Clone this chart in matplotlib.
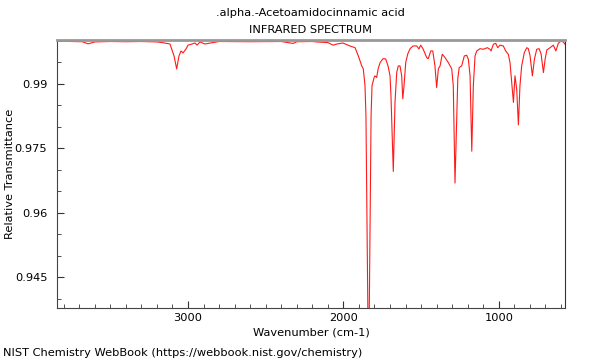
import numpy as np
import matplotlib
matplotlib.use('Agg')
import matplotlib.pyplot as plt
from matplotlib.ticker import MultipleLocator

# spectrum (wavenumber, relative transmittance)
wavenumber = [3843, 3750, 3680, 3643, 3600, 3500, 3400, 3300, 3200, 3167,
              3116, 3090, 3073, 3058, 3045, 3032, 3013, 3000, 2974, 2955,
              2942, 2923, 2891, 2800, 2600, 2400, 2324, 2300, 2200, 2170,
              2100, 2067, 2041, 2003, 1958, 1925, 1904, 1882, 1872, 1861,
              1855, 1838, 1822, 1816, 1803, 1797, 1786, 1777, 1764, 1745,
              1728, 1713, 1700, 1694, 1679, 1668, 1657, 1647, 1636, 1625,
              1618, 1610, 1599, 1586, 1571, 1552, 1528, 1514, 1503, 1488,
              1464, 1454, 1438, 1425, 1411, 1400, 1389, 1378, 1364, 1346,
              1325, 1303, 1293, 1282, 1264, 1255, 1239, 1222, 1207, 1196,
              1185, 1174, 1164, 1153, 1142, 1121, 1100, 1074, 1057, 1050,
              1035, 1020, 1007, 992, 971, 956, 939, 928, 917, 906,
              896, 885, 874, 864, 853, 836, 820, 810, 799, 784,
              771, 756, 741, 728, 713, 702, 691, 670, 649, 633,
              617, 600, 585, 574]
transmittance = [0.99997, 0.99985, 0.99980, 0.99930, 0.99975, 0.99985, 0.99980, 0.99985, 0.99975, 0.99960,
                 0.99927, 0.99649, 0.99348, 0.99649, 0.99765, 0.99719, 0.99811, 0.99900, 0.99927, 0.99950,
                 0.99900, 0.99974, 0.99927, 0.99985, 0.99980, 0.99985, 0.99940, 0.99980, 0.99985, 0.99974,
                 0.99960, 0.99900, 0.99927, 0.99950, 0.99881, 0.99841, 0.99649, 0.99417, 0.99348, 0.98954,
                 0.98258, 0.92000, 0.98258, 0.98954, 0.99139, 0.99185, 0.99146, 0.99341, 0.99494, 0.99586,
                 0.99580, 0.99417, 0.99185, 0.98722, 0.96960, 0.98567, 0.99262, 0.99417, 0.99417, 0.99185,
                 0.98652, 0.98954, 0.99494, 0.99695, 0.99818, 0.99881, 0.99881, 0.99811, 0.99900, 0.99818,
                 0.99610, 0.99586, 0.99765, 0.99765, 0.99417, 0.98914, 0.99348, 0.99417, 0.99688, 0.99610,
                 0.99494, 0.99348, 0.98954, 0.96689, 0.99116, 0.99378, 0.99417, 0.99649, 0.99665, 0.99573,
                 0.99185, 0.97431, 0.98954, 0.99649, 0.99765, 0.99818, 0.99804, 0.99841, 0.99804, 0.99765,
                 0.99920, 0.99943, 0.99841, 0.99900, 0.99881, 0.99765, 0.99688, 0.99494, 0.99030, 0.98567,
                 0.99185, 0.98877, 0.98043, 0.98954, 0.99417, 0.99726, 0.99841, 0.99818, 0.99649, 0.99185,
                 0.99573, 0.99804, 0.99818, 0.99695, 0.99262, 0.99573, 0.99788, 0.99841, 0.99900, 0.99765,
                 0.99943, 0.99997, 0.99974, 0.99920]

title1 = '.alpha.-Acetoamidocinnamic acid'
title2 = 'INFRARED SPECTRUM'
xlabel = 'Wavenumber (cm-1)'
ylabel = 'Relative Transmittance'
footer = 'NIST Chemistry WebBook (https://webbook.nist.gov/chemistry)'
yticks = [0.945, 0.96, 0.975, 0.99]
xticks = [3000, 2000, 1000]

fs = 8.2

fig = plt.figure(figsize=(6, 3.6), dpi=100)
ax = fig.add_axes([0.095, 0.1444, 0.8467, 0.7445])

ax.plot(wavenumber, transmittance, color='#ff1a1a', linewidth=0.8)

ax.set_xlim(3843, 574)
ax.set_ylim(0.9378, 1.0002)
ax.set_xticks(xticks)
ax.set_yticks(yticks)
ax.set_yticklabels([str(v) for v in yticks])
ax.xaxis.set_minor_locator(MultipleLocator(100))
ax.yaxis.set_minor_locator(MultipleLocator(0.005))
ax.tick_params(which='both', direction='in', top=False, right=False,
               labelsize=fs, color='#333333')
ax.tick_params(which='major', length=5)
ax.tick_params(which='minor', length=3)
ax.tick_params(axis='y', which='major', pad=7)

ax.spines['top'].set_color('#999999')
ax.spines['top'].set_linewidth(2)
for s in ['left', 'bottom']:
    ax.spines[s].set_color('#444444')
ax.spines['right'].set_color('#333333')

ax.set_xlabel(xlabel, fontsize=fs, labelpad=3)
ax.set_ylabel(ylabel, fontsize=fs, ha='center', va='center')
ax.yaxis.set_label_coords(-0.0925, 0.5)

fig.text(0.518, 0.963, title1, ha='center', va='center', fontsize=fs)
fig.text(0.518, 0.916, title2, ha='center', va='center', fontsize=fs)
fig.text(0.005, 0.02, footer, ha='left', va='center', fontsize=fs)

fig.savefig('out.png', dpi=100)
